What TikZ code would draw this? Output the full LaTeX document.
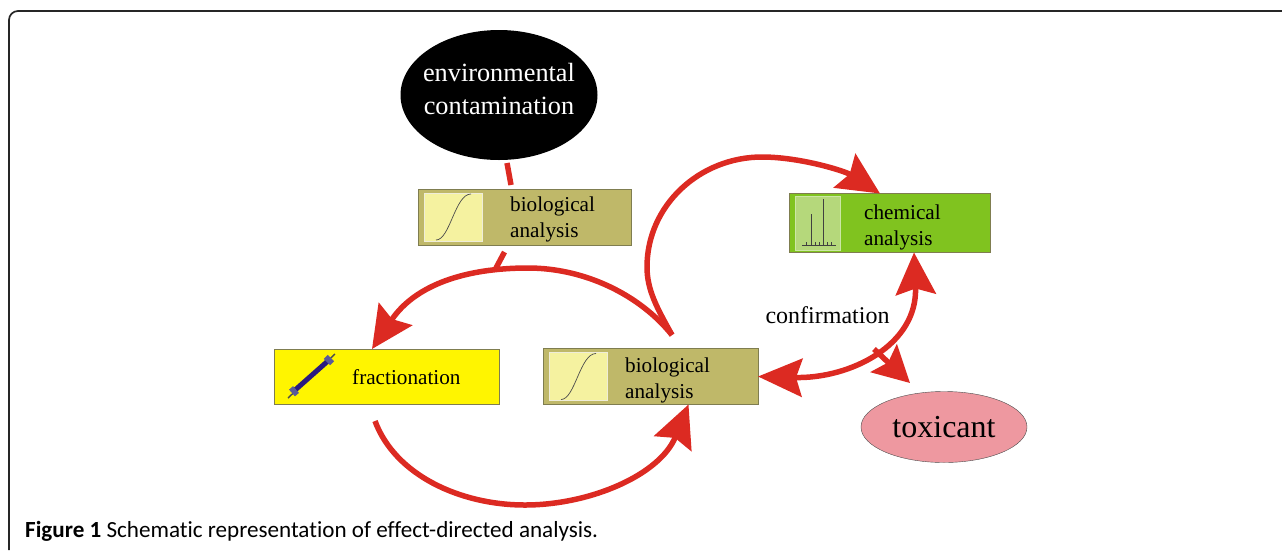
\documentclass[tikz,border=0pt]{standalone}
\usepackage{fontspec}
\setmainfont{Liberation Serif}
\newfontfamily\capfont[Ligatures=NoCommon]{Carlito}
\usetikzlibrary{positioning,shapes.geometric,arrows.meta}

\definecolor{flowred}{HTML}{DC2A22}
\definecolor{oliveb}{HTML}{BFB869}
\definecolor{oliveline}{HTML}{7F7D50}
\definecolor{paleyellow}{HTML}{F5F2A0}
\definecolor{brightyellow}{HTML}{FFF500}
\definecolor{leafgreen}{HTML}{80C31F}
\definecolor{palegreen}{HTML}{B5D87B}
\definecolor{rosepink}{HTML}{EE98A0}
\definecolor{wrenchblue}{HTML}{2A1A80}
\definecolor{wrenchend}{HTML}{5A5A9A}

\tikzset{
	box/.style={draw=oliveline,line width=0.9pt,outer sep=0pt,inner sep=0pt},
	inset/.style={draw=white!75!oliveb,line width=0.8pt,outer sep=0pt,inner sep=0pt},
	boxtext/.style={align=left,inner sep=0pt,font=\fontsize{21.2}{25.5}\selectfont},
	flow/.style={draw=flowred,line width=5.5pt},
	flowtip/.style={flow,-{Stealth[length=42pt,width=40pt,inset=6pt]}},
}

\begin{document}
\begin{tikzpicture}[x=1pt,y=-1pt]
	\useasboundingbox (0,0) rectangle (1282,550);
	\draw[line width=1.7pt,draw=black!85,rounded corners=9pt] (9,550) -- (9,11) -- (1282,11);

	\node[ellipse,fill=black,minimum width=197pt,minimum height=130pt,inner sep=0pt,outer sep=0pt] (env) at (499,95) {};
	\node[text=white,align=center,inner sep=0pt,font=\fontsize{26.3}{33}\selectfont,yshift=6pt] (envtxt) at (env) {environmental\\contamination};
	\node[box,fill=oliveb,minimum width=213pt,minimum height=56pt,below=29pt of env,xshift=25.5pt] (bioA) {};
	\node[box,fill=brightyellow,minimum width=225pt,minimum height=55pt,below=104pt of bioA,xshift=-138pt] (frac) {};
	\node[box,fill=oliveb,minimum width=215pt,minimum height=56pt,right=44pt of frac] (bioB) {};
	\node[box,fill=leafgreen,minimum width=201pt,minimum height=59pt,above=96pt of bioB,xshift=239pt] (chem) {};
	\node[ellipse,draw=black!70,fill=rosepink,minimum width=166pt,minimum height=71pt,inner sep=0pt,outer sep=0pt,
		font=\fontsize{32}{36}\selectfont,right=103pt of bioB,yshift=-50.5pt] (tox) {toxicant};

	\node[inset,fill=paleyellow,minimum width=58pt,minimum height=48pt,anchor=west] (insetA) at ([xshift=6pt]bioA.west) {};
	\node[inset,fill=paleyellow,minimum width=58pt,minimum height=48pt,anchor=west] (insetB) at ([xshift=6pt]bioB.west) {};
	\node[inset,draw=white!60!leafgreen,fill=palegreen,minimum width=45pt,minimum height=54pt,anchor=west] (insetC) at ([xshift=6pt]chem.west) {};

	\node[boxtext,right=28pt of insetA,yshift=-2.5pt] (txtA) {biological\\analysis};
	\node[boxtext,right=18pt of insetB,yshift=-4pt] (txtB) {biological\\analysis};
	\node[boxtext,right=24pt of insetC,yshift=-4.5pt] (txtC) {chemical\\analysis};
	\node[boxtext,anchor=west,yshift=-1pt] (txtF) at ([xshift=78pt]frac.west) {fractionation};
	\node[boxtext,font=\fontsize{24}{26}\selectfont,above=25pt of bioB.north east,xshift=69.5pt] (conf) {confirmation};

	% s-shaped response curves
	\foreach \n in {insetA,insetB} {
		\draw[line width=0.7pt,draw=black!70] ([shift={(12,-1)}]\n.south west) .. controls +(14,0) and +(-16,0) .. ([shift={(-11,1)}]\n.north east);
	}

	% spectrum
	\draw[line width=1pt,draw=black!75] (802,245) -- (836,245);
	\draw[line width=0.8pt,draw=black!75] (811,245) -- (811,214);
	\draw[line width=0.8pt,draw=black!75] (823,245) -- (823,199);
	\foreach \x in {806,815,819,827,831} {
		\draw[line width=0.6pt,draw=black!75] (\x,245) -- (\x,242);
	}

	% wrench
	\draw[line width=1.4pt,draw=black!70] (288,398) -- (335,354);
	\draw[line width=5pt,draw=wrenchblue] (294,391) -- (329,360);
	\draw[line width=9pt,draw=wrenchend] (292,393) -- (296,389.5);
	\draw[line width=9pt,draw=wrenchend] (327,362) -- (331,358);

	\coordinate (foot) at (672,335);
	\coordinate (topjoin) at (496,268);
	\coordinate (mainapex) at (528,268);
	\coordinate (sideapex) at (647,267);
	\coordinate (roofapex) at (762,157);
	\coordinate (lowapex) at (525,505);
	\coordinate (lowstart) at (375,421);
	\coordinate (branch) at (874,349);
	\coordinate (toxtip) at (910,383);

	\draw[flow] ([shift={(8,3)}]env.south) -- ([shift={(12,-4)}]bioA.north west -| env.south);
	\draw[flow] ([shift={(-20,7)}]bioA.south) -- (topjoin);

	\draw[flowtip] (foot) .. controls (640,295) and (585,268) .. (mainapex)
		.. controls (465,268) and (415,285) .. ([xshift=-14.5pt]frac.north);
	\draw[flowtip] (foot) .. controls (657,308) and (647,290) .. (sideapex)
		.. controls (647,205) and (700,157) .. (roofapex)
		.. controls (800,157) and (845,171) .. ([xshift=-9.5pt]chem.north);
	\draw[flowtip] (lowstart) .. controls (395,475) and (460,505) .. (lowapex)
		.. controls (590,505) and (660,475) .. ([xshift=38pt]bioB.south);
	\draw[flow,{Stealth[length=44pt,width=38pt,inset=6pt]}-{Stealth[length=42pt,width=40pt,inset=6pt]}]
		(bioB.east) .. controls (850,379) and (918,345) .. ([xshift=24.5pt]chem.south);
	\draw[flow,-{Stealth[length=36pt,width=38pt,inset=6pt]}] (branch) -- (toxtip);

	\node[anchor=base west,inner sep=0pt,font=\capfont\fontsize{23.1}{25}\selectfont] (caption) at (25,537)
		{\textbf{Figure 1} Schematic representation of effect-directed analysis.};
\end{tikzpicture}
\end{document}
